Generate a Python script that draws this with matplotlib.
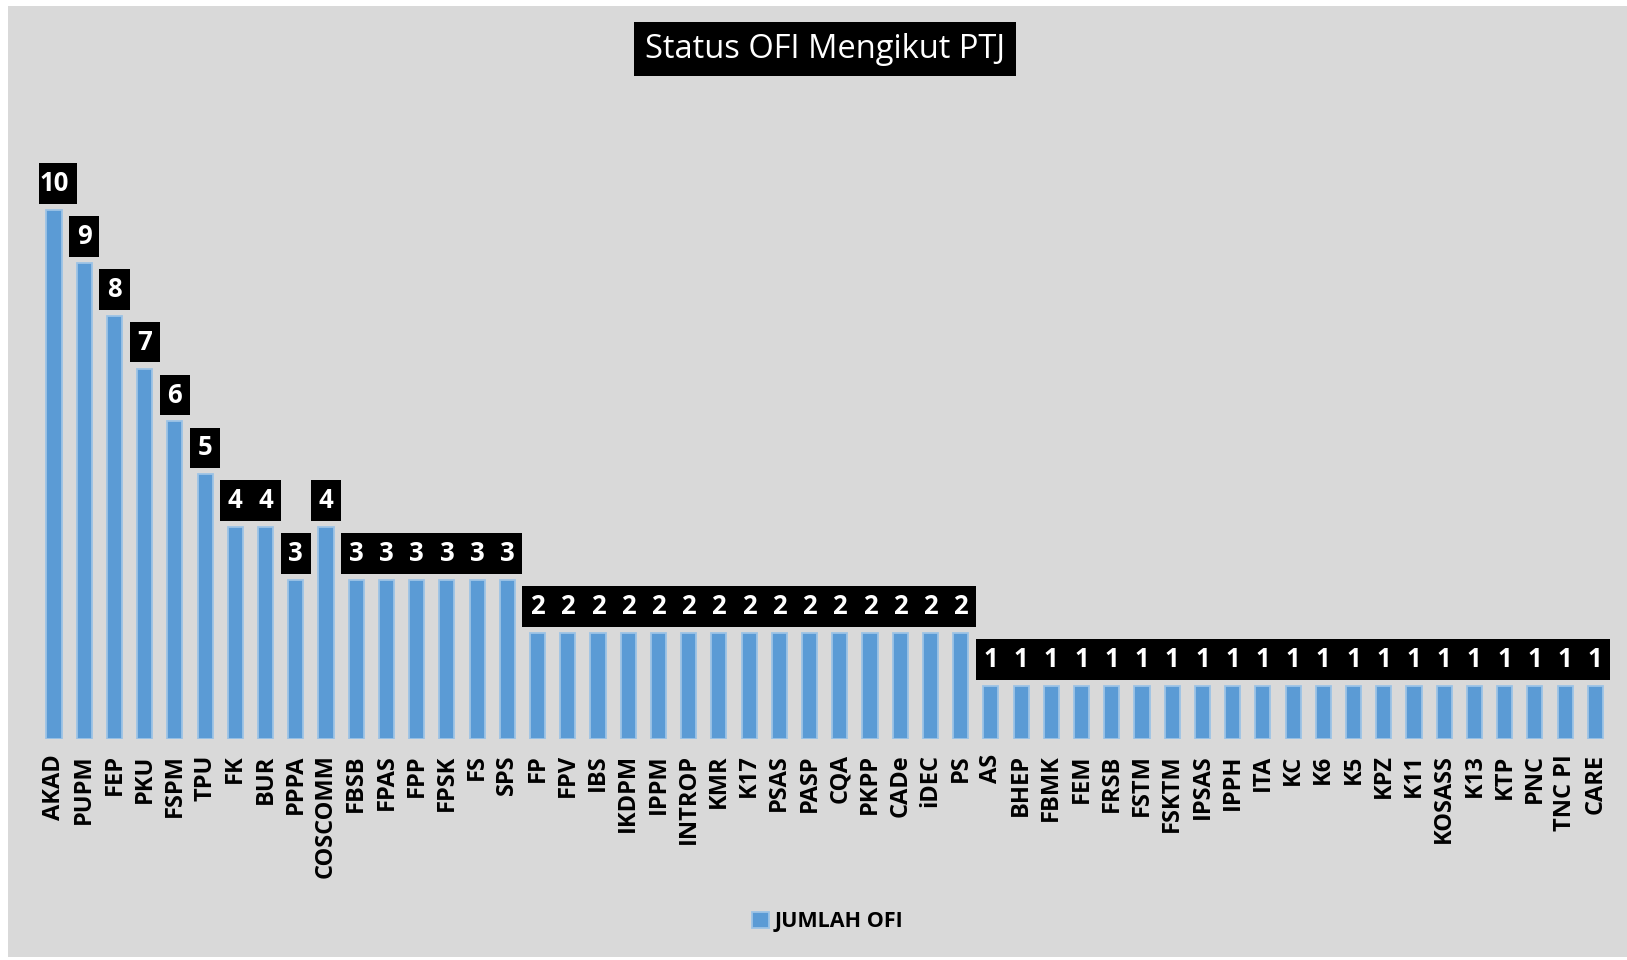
#!/usr/bin/env python
# -*- coding: utf-8 -*-
import matplotlib
matplotlib.use("Agg")
import matplotlib.pyplot as plt
from matplotlib.patches import Rectangle
import numpy as np

# data
ptj = ["AKAD", "PUPM", "FEP", "PKU", "FSPM", "TPU", "FK", "BUR", "PPPA", "COSCOMM",
       "FBSB", "FPAS", "FPP", "FPSK", "FS", "SPS", "FP", "FPV", "IBS", "IKDPM",
       "IPPM", "INTROP", "KMR", "K17", "PSAS", "PASP", "CQA", "PKPP", "CADe", "iDEC",
       "PS", "AS", "BHEP", "FBMK", "FEM", "FRSB", "FSTM", "FSKTM", "IPSAS", "IPPH",
       "ITA", "KC", "K6", "K5", "KPZ", "K11", "KOSASS", "K13", "KTP", "PNC",
       "TNC PI", "CARE"]
jumlah_ofi = [10, 9, 8, 7, 6, 5, 4, 4, 3, 4,
              3, 3, 3, 3, 3, 3, 2, 2, 2, 2,
              2, 2, 2, 2, 2, 2, 2, 2, 2, 2,
              2, 1, 1, 1, 1, 1, 1, 1, 1, 1,
              1, 1, 1, 1, 1, 1, 1, 1, 1, 1,
              1, 1]
series_name = "JUMLAH OFI"
title = "Status OFI Mengikut PTJ"


def main():
    plt.rcParams['font.family'] = ['Open Sans', 'DejaVu Sans']
    fig = plt.figure(figsize=(16.27, 9.6), dpi=100)
    fig.patch.set_facecolor("white")
    # grey chart area
    bg = Rectangle((8 / 1627.0, 3 / 960.0), 1.0, 951 / 960.0,
                   transform=fig.transFigure, facecolor="#d9d9d9",
                   edgecolor="none", zorder=-10)
    fig.add_artist(bg)

    ax = fig.add_axes([38.9 / 1627.0, 0.2302, 1571.5 / 1627.0, 0.6615])
    ax.set_facecolor("none")
    ax.set_zorder(1)
    x = np.arange(len(ptj))
    vals = np.array(jumlah_ofi, dtype=float)

    bars = ax.bar(x, vals, width=0.5, color="#5b9bd5", edgecolor="#9dc3e6",
                  linewidth=1.3, label=series_name, zorder=3)

    # black label boxes (data labels)
    gap = 0.115
    box_h = 0.77
    widths = [0.5 + 0.5 * len(str(v)) for v in jumlah_ofi]
    ax.bar(x, box_h, bottom=vals + gap, width=widths, color="black",
           edgecolor="none", linewidth=0, zorder=4)
    for xi, v in zip(x, jumlah_ofi):
        ax.text(xi, v + gap + box_h / 2, str(v), color="white", fontsize=18.5,
                fontweight="bold", ha="center", va="center", zorder=5)

    ax.set_xlim(-0.5, len(ptj) - 0.5)
    ax.set_ylim(0, 12)
    ax.set_xticks(x)
    ax.set_xticklabels(ptj, rotation=90, fontsize=17, fontweight="bold")
    ax.tick_params(axis="x", length=0, pad=11)
    ax.set_yticks([])
    for s in ax.spines.values():
        s.set_visible(False)

    fig.text(825 / 1627.0, 1 - 49 / 960.0, title, color="white", fontsize=23.5,
             ha="center", va="center",
             bbox=dict(boxstyle="square,pad=0.32", facecolor="black", edgecolor="none"))

    ax.legend(handles=[bars], loc="center", bbox_to_anchor=(0.509, 0.0396),
              bbox_transform=fig.transFigure, frameon=False,
              handlelength=0.75, handleheight=0.75, handletextpad=0.3,
              prop={"size": 15.5, "weight": "bold"})

    plt.savefig("out.png", dpi=100, facecolor=fig.get_facecolor())
    plt.close()


if __name__ == '__main__':
    main()
